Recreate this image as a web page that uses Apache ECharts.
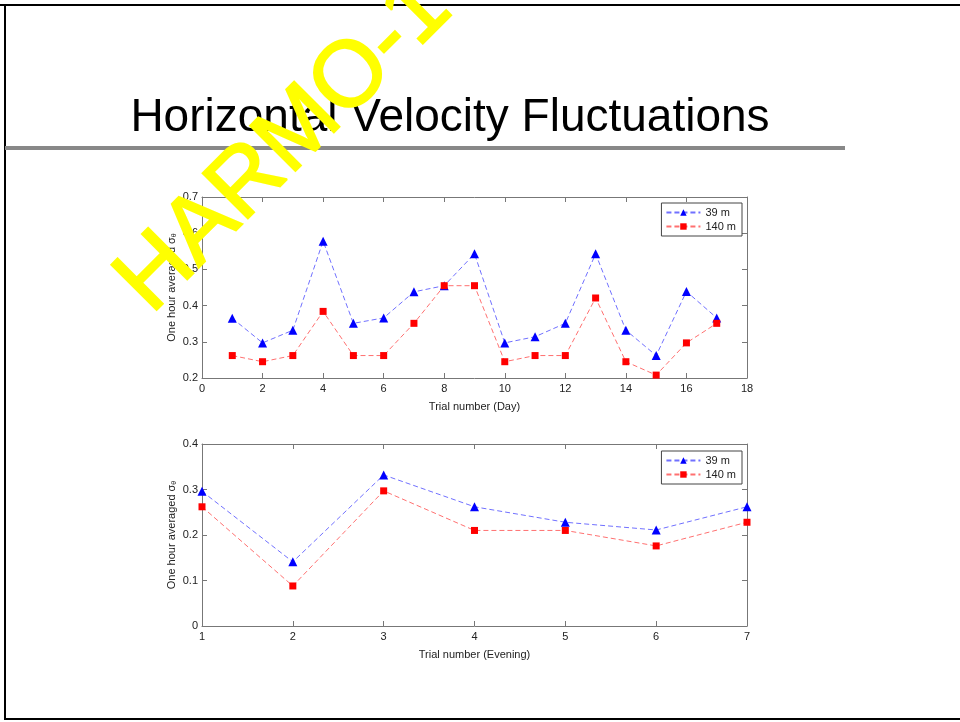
<!DOCTYPE html>
<html><head><meta charset="utf-8">
<script src="https://cdn.jsdelivr.net/npm/echarts@6/dist/echarts.min.js"></script>
<style>html,body{margin:0;padding:0;background:#fff}#c{width:960px;height:722px}</style>
</head><body><div id="c"></div>
<script>
// Day trials
const dayTrials = [1,2,3,4,5,6,7,8,9,10,11,12,13,14,15,16,17];
const day39 = [0.365,0.297,0.332,0.578,0.351,0.366,0.438,0.455,0.543,0.297,0.314,0.351,0.543,0.332,0.262,0.439,0.366];
const day140 = [0.262,0.245,0.262,0.384,0.262,0.262,0.351,0.455,0.455,0.245,0.262,0.262,0.421,0.245,0.208,0.297,0.351];
// Evening trials
const eveTrials = [1,2,3,4,5,6,7];
const eve39 = [0.296,0.141,0.332,0.262,0.228,0.211,0.262];
const eve140 = [0.262,0.088,0.297,0.210,0.210,0.176,0.228];
const seriesNames = ['39 m','140 m'];
const titleText = 'Horizontal Velocity Fluctuations';
const watermark = 'HARMO-1';

const pair = (xs, ys) => xs.map((x,i)=>[x, ys[i]]);
const chart = echarts.init(document.getElementById('c'));
const font = 'Liberation Sans, Arial, sans-serif';
const axisCol = '#777';
const txtCol = '#222';

function xAx(grid, min, max, interval, name, gap, labelsShow, pos) {
  return {
    type:'value', gridIndex:grid, min, max, interval, position:pos,
    name: name, nameLocation:'middle', nameGap: gap,
    nameTextStyle:{fontFamily:font, fontSize:11, color:txtCol},
    axisLine:{show:true, onZero:false, lineStyle:{color:axisCol, width:1}},
    axisTick:{show:true, inside:true, length:5, lineStyle:{color:axisCol}},
    axisLabel:{show:labelsShow, fontFamily:font, fontSize:11, color:txtCol, margin:5},
    splitLine:{show:false}
  };
}
function yAx(grid, min, max, interval, labelsShow, pos, withName) {
  return {
    type:'value', gridIndex:grid, min, max, interval, position:pos,
    name: withName ? 'One hour averaged {g|σ}{t|θ}' : '',
    nameLocation:'middle', nameGap: 24, nameRotate: 90, nameMoveOverlap: false,
    nameTextStyle:{fontFamily:font, fontSize:11, color:txtCol,
      rich:{g:{fontFamily:font,fontSize:11,color:txtCol}, t:{fontFamily:font,fontSize:7,color:txtCol,padding:[5,0,0,0]}}},
    axisLine:{show:true, onZero:false, lineStyle:{color:axisCol, width:1}},
    axisTick:{show:true, inside:true, length:5, lineStyle:{color:axisCol}},
    axisLabel:{show:labelsShow, fontFamily:font, fontSize:11, color:txtCol, margin:4,
      formatter: v => (Math.round(v*10)/10).toString()},
    splitLine:{show:false}
  };
}
function mkSeries(name, data, xi, yi, blue) {
  return {
    name, type:'line', xAxisIndex:xi, yAxisIndex:yi, data,
    symbol: blue ? 'triangle' : 'rect', symbolSize: blue ? 9 : 7,
    itemStyle:{color: blue ? '#0000ff' : '#ff0000'},
    lineStyle:{color: blue ? '#7070ff' : '#ff7070', width:1, type:[5,3]},
    emphasis:{disabled:true}, animation:false, z:3
  };
}

const legendBase = {
  orient:'vertical', right: 218, itemGap:3, itemWidth:34, itemHeight:8,
  backgroundColor:'#fff', borderColor:'#444', borderWidth:1, padding:[4,6,4,4],
  textStyle:{fontFamily:font, fontSize:11, color:txtCol}, data: seriesNames
};

chart.setOption({
  animation:false,
  grid:[
    {left:202, right:213, top:197, height:181},
    {left:202, right:213, top:444, height:182}
  ],
  xAxis:[
    xAx(0, 0, 18, 2, 'Trial number (Day)', 23, true, 'bottom'),
    xAx(0, 0, 18, 2, '', 0, false, 'top'),
    xAx(1, 1, 7, 1, 'Trial number (Evening)', 23, true, 'bottom'),
    xAx(1, 1, 7, 1, '', 0, false, 'top')
  ],
  yAxis:[
    yAx(0, 0.2, 0.7, 0.1, true, 'left', true),
    yAx(0, 0.2, 0.7, 0.1, false, 'right', false),
    yAx(1, 0, 0.4, 0.1, true, 'left', true),
    yAx(1, 0, 0.4, 0.1, false, 'right', false)
  ],
  legend:[
    Object.assign({}, legendBase, {top:203}),
    Object.assign({}, legendBase, {top:451})
  ],
  series:[
    mkSeries(seriesNames[0], pair(dayTrials, day39), 0, 0, true),
    mkSeries(seriesNames[1], pair(dayTrials, day140), 0, 0, false),
    mkSeries(seriesNames[0], pair(eveTrials, eve39), 2, 2, true),
    mkSeries(seriesNames[1], pair(eveTrials, eve140), 2, 2, false)
  ],
  graphic:[
    {type:'rect', shape:{x:0, y:4, width:960, height:2}, style:{fill:'#000'}, z:100},
    {type:'rect', shape:{x:4, y:4, width:2, height:716}, style:{fill:'#000'}, z:100},
    {type:'rect', shape:{x:4, y:718, width:956, height:2}, style:{fill:'#000'}, z:100},
    {type:'rect', shape:{x:5, y:146, width:840, height:4}, style:{fill:'#888'}, z:100},
    {type:'text', x:450, y:141, style:{text:titleText, font:'46px "Liberation Sans", sans-serif', fill:'#000', textAlign:'center', textVerticalAlign:'bottom'}, z:100},
    {type:'text', x:133, y:297, rotation: 45*Math.PI/180,
      style:{text:watermark, font:'93px "Liberation Sans", sans-serif', fill:'#ffff00', stroke:'#ffff00', lineWidth:2, textAlign:'left', textVerticalAlign:'middle'}, z:200}
  ]
});
</script></body></html>
